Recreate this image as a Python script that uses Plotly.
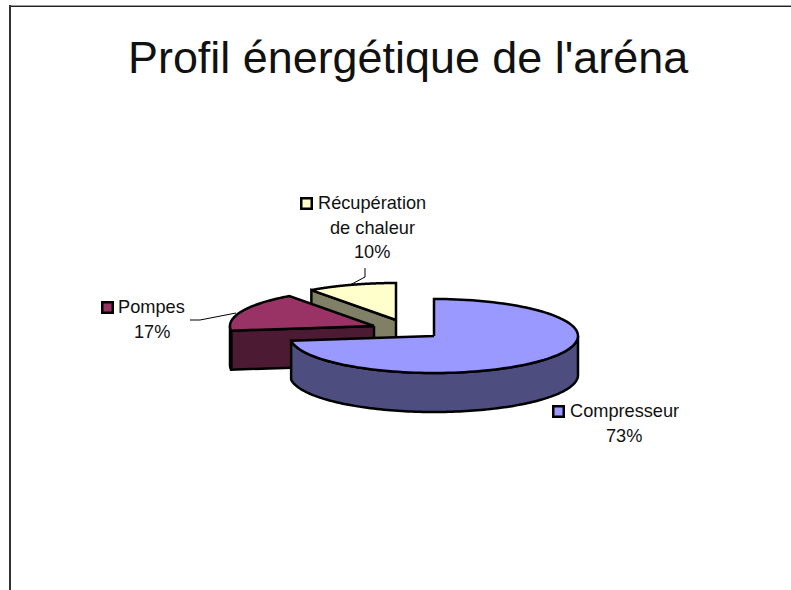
import numpy as np
import plotly.graph_objects as go

title = "Profil énergétique de l'aréna"
categories = ["Compresseur", "Pompes", "Récupération de chaleur"]
values = [73, 17, 10]
percent_labels = ["73%", "17%", "10%"]

W, H = 791, 590
FONT = "Liberation Sans, Arial, sans-serif"
RX, RY, DEPTH = 144, 37, 39
apex = {"Compresseur": (434, 336), "Pompes": (374, 326), "Récupération de chaleur": (396, 320)}
top_col = {"Compresseur": "#9999FF", "Pompes": "#993366", "Récupération de chaleur": "#FFFFCC"}
wall_col = {"Compresseur": "#4D4D80", "Pompes": "#4D1A33", "Récupération de chaleur": "#808066"}

total = sum(values)
edges = np.cumsum([0] + values) / total * 2 * np.pi
spans = {c: (edges[i], edges[i + 1]) for i, c in enumerate(categories)}


def rim(cat, a0, a1, n=120):
    cx, cy = apex[cat]
    t = np.linspace(a0, a1, n)
    return cx + RX * np.sin(t), cy - RY * np.cos(t)


def poly(x, y, fill):
    return go.Scatter(x=list(x), y=list(y), mode="lines", fill="toself", fillcolor=fill,
                      line=dict(color="black", width=2.5, simplify=False),
                      hoverinfo="skip", showlegend=False)


def cut_face(cat, angle):
    cx, cy = apex[cat]
    ex, ey = rim(cat, angle, angle, 1)
    return poly([cx, ex[0], ex[0], cx, cx], [cy, ey[0], ey[0] + DEPTH, cy + DEPTH, cy], wall_col[cat])


def wedge(cat):
    a0, a1 = spans[cat]
    cx, cy = apex[cat]
    x, y = rim(cat, a0, a1)
    return poly([cx, *x, cx], [cy, *y, cy], top_col[cat])


def outer_wall(cat, a0, a1):
    x, y = rim(cat, a0, a1)
    return poly([*x, *x[::-1], x[0]], [*y, *(y[::-1] + DEPTH), y[0]], wall_col[cat])


fig = go.Figure()
R, P, C = categories[2], categories[1], categories[0]
# back to front
fig.add_trace(cut_face(R, spans[R][0]))
fig.add_trace(wedge(R))
fig.add_trace(cut_face(P, spans[P][0]))
fig.add_trace(outer_wall(P, spans[P][0], 1.5 * np.pi))
fig.add_trace(wedge(P))
fig.add_trace(outer_wall(C, np.pi / 2, spans[C][1]))
fig.add_trace(wedge(C))

# leader lines
for lx, ly in [([365, 365, 350], [268, 277, 285]), ([190, 200, 236], [320, 320, 313])]:
    fig.add_trace(go.Scatter(x=lx, y=ly, mode="lines", line=dict(color="black", width=1),
                             hoverinfo="skip", showlegend=False))

# legend keys
key_pos = {C: (558.5, 411.5), P: (107.5, 307.5), R: (306.5, 203.5)}
for c in categories:
    fig.add_trace(go.Scatter(x=[key_pos[c][0]], y=[key_pos[c][1]], mode="markers",
                             marker=dict(symbol="square", size=10.5, color=top_col[c],
                                         line=dict(color="black", width=2.5)),
                             hoverinfo="skip", showlegend=False))

# labels
label_lines = {C: [C], P: [P], R: ["Récupération", "de chaleur"]}
label_pos = {C: (624, 411), P: (151.5, 307), R: (372, 203)}
annotations = []
for c, pct in zip(categories, percent_labels):
    lx, ly = label_pos[c]
    for i, txt in enumerate(label_lines[c] + [pct]):
        annotations.append(dict(x=lx, y=ly + i * 24.7, text=txt, showarrow=False, xref="x", yref="y",
                                xanchor="center", yanchor="middle",
                                font=dict(family=FONT, size=18.2, color="#111111")))
annotations.append(dict(x=408, y=57, text=title, showarrow=False, xref="x", yref="y",
                        xanchor="center", yanchor="middle",
                        font=dict(family=FONT, size=44.9, color="#111111")))

shapes = [
    dict(type="line", xref="x", yref="y", x0=9, x1=W, y0=5.5, y1=5.5, line=dict(color="#999999", width=1)),
    dict(type="line", xref="x", yref="y", x0=11, x1=W, y0=6.5, y1=6.5, line=dict(color="#222222", width=1)),
    dict(type="line", xref="x", yref="y", x0=10, x1=10, y0=5, y1=H, line=dict(color="#333333", width=2)),
]

fig.update_layout(width=W, height=H, margin=dict(l=0, r=0, t=0, b=0, pad=0),
                  paper_bgcolor="white", plot_bgcolor="white",
                  xaxis=dict(range=[0, W], visible=False, fixedrange=True),
                  yaxis=dict(range=[H, 0], visible=False, fixedrange=True),
                  annotations=annotations, shapes=shapes, showlegend=False)
fig.write_html("out.html", config={"displayModeBar": False, "responsive": False},
               post_script="document.body.style.margin='0';document.body.style.overflow='hidden';")
